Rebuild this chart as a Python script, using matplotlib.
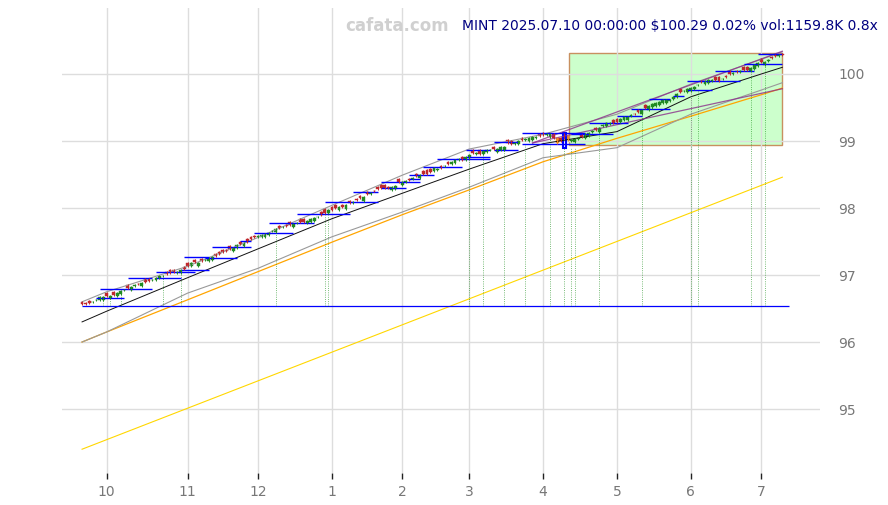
import numpy as np
import matplotlib
matplotlib.use('Agg')
import matplotlib.pyplot as plt
from matplotlib.patches import Rectangle

# trading days per month, Sep 20 2024 .. Jul 10 2025
month_days = [7, 23, 20, 21, 20, 19, 21, 21, 21, 20, 7]
month_labels = ["10", "11", "12", "1", "2", "3", "4", "5", "6", "7"]

# daily closes
closes = [96.57, 96.57, 96.58, 96.60, 96.63, 96.67, 96.67, 96.69, 96.69, 96.70,
          96.73, 96.76, 96.78, 96.81, 96.82, 96.85, 96.86, 96.88, 96.90, 96.91,
          96.93, 96.96, 96.99, 96.99, 97.01, 97.03, 97.04, 97.04, 97.07, 97.09,
          97.13, 97.18, 97.19, 97.18, 97.21, 97.23, 97.25, 97.27, 97.28, 97.31,
          97.34, 97.36, 97.39, 97.40, 97.45, 97.46, 97.48, 97.49, 97.54, 97.57,
          97.58, 97.60, 97.61, 97.63, 97.66, 97.69, 97.70, 97.72, 97.73, 97.75,
          97.76, 97.78, 97.79, 97.79, 97.81, 97.84, 97.85, 97.87, 97.90, 97.93,
          97.97, 97.97, 98.00, 98.01, 98.01, 98.04, 98.07, 98.09, 98.12, 98.15,
          98.16, 98.21, 98.22, 98.25, 98.28, 98.30, 98.30, 98.30, 98.31, 98.33,
          98.39, 98.39, 98.40, 98.42, 98.45, 98.48, 98.49, 98.51, 98.51, 98.54,
          98.60, 98.58, 98.60, 98.63, 98.66, 98.69, 98.72, 98.73, 98.72, 98.76,
          98.79, 98.82, 98.82, 98.81, 98.85, 98.87, 98.87, 98.88, 98.88, 98.91,
          98.91, 98.97, 98.96, 98.97, 99.00, 99.01, 99.03, 99.04, 99.06, 99.06,
          99.07, 99.09, 99.10, 99.10, 99.04, 98.97, 99.00, 99.04, 99.01, 99.01,
          99.03, 99.04, 99.06, 99.10, 99.12, 99.15, 99.16, 99.19, 99.24, 99.27,
          99.27, 99.27, 99.28, 99.33, 99.36, 99.36, 99.39, 99.40, 99.43, 99.46,
          99.49, 99.52, 99.55, 99.57, 99.58, 99.61, 99.61, 99.61, 99.66, 99.70,
          99.73, 99.75, 99.78, 99.79, 99.81, 99.84, 99.88, 99.90, 99.91, 99.91,
          99.91, 99.90, 99.93, 99.96, 100.00, 100.01, 100.03, 100.04, 100.06, 100.06,
          100.09, 100.13, 100.16, 100.18, 100.18, 100.21, 100.24, 100.27, 100.28, 100.29]

# candle body (close - open) in cents
bodies = [-3, -1, -3, 1, 1, 4, 5, -4, 4, -4, 4, 5, 1, -4, 4, 1, -1, 4, -4, -3,
          1, 4, 4, 1, -3, -4, -3, 1, 4, -3, -5, 5, -3, 4, -3, 1, 4, 4, -3, -4,
          -4, -1, -4, 4, 5, -4, 4, -4, -3, -1, 1, 3, 4, 4, 1, 5, -3, 1, -1, -4,
          4, 1, -4, -5, 4, 5, 4, 1, -4, -5, 5, -5, -4, 4, -4, 5, -4, 1, -1, -3,
          5, -3, 1, -1, -3, -4, -4, -1, 4, 5, -4, 4, 1, -1, 1, -3, 4, -4, -5, -4,
          5, 1, -3, 1, -3, 4, 5, 1, -4, 5, 5, -4, 1, -5, 4, 4, 1, -3, 4, 5,
          4, -5, -4, 1, 4, -4, 1, 4, 5, 1, -3, -3, 1, 4, -6, -8, -5, -6, -7, 1,
          5, 1, -3, 5, 5, 1, -4, 5, 1, 5, 1, -4, -5, 5, 5, 4, 1, -1, -4, 5,
          -5, 5, 5, 5, 5, 4, 5, 1, 4, 5, -5, 1, 5, 5, 4, 1, -1, 5, 4, 1,
          -5, -5, 1, -1, -5, 1, -1, 1, -4, -4, 5, 5, 4, -4, 5, 1, -1, -2, 1, -1]
orange_days = [135, 138]
blue_box_day = 137
blue_box_lo, blue_box_hi = 98.90, 99.12

# indicator lines, read at month starts
anchor_idx = [0, 7, 30, 50, 71, 91, 110, 131, 152, 173, 193, 199]
mid_line = [96.30, 96.46, 96.96, 97.39, 97.84, 98.22, 98.58, 98.96, 99.14, 99.66, 100.00, 100.10]
upper_gray = [96.60, 96.75, 97.13, 97.56, 98.04, 98.49, 98.88, 99.10, 99.40, 99.85, 100.22, 100.33]
lower_gray = [96.00, 96.15, 96.73, 97.10, 97.57, 97.94, 98.31, 98.75, 98.90, 99.40, 99.76, 99.87]
orange_line = [96.00, 96.15, 96.63, 97.05, 97.49, 97.90, 98.27, 98.69, 99.04, 99.37, 99.69, 99.79]
yellow_idx = [0, 199]
yellow_line = [94.40, 98.46]
purple_idx = [128, 199]
purple_up = [98.97, 100.34]
purple_dn = [98.97, 99.78]

base_level = 96.53
box_i0, box_i1 = 139, 199
box_lo, box_hi = 98.94, 100.31

# green dotted markers: day index, top value
dot_days = [6, 8, 11, 23, 28, 55, 69, 70, 110, 114, 120, 126, 133, 137, 139, 140, 147, 159, 173, 175, 190, 194]
dot_tops = [96.66, 96.66, 96.73, 96.96, 97.03, 97.70, 97.90, 97.90, 98.76, 98.85, 98.90, 98.96, 99.12, 98.90,
            98.90, 98.90, 99.21, 99.49, 99.76, 99.76, 100.03, 100.15]

# blue range segments: start day, end day, level
seg_start = [4, 5, 13, 21, 21, 28, 29, 35, 37, 45, 49, 53, 61, 69, 77, 85, 85, 93, 93, 97, 101, 109, 109,
             117, 117, 125, 125, 139, 144, 152, 156, 161, 168, 172, 172, 180, 188, 192]
seg_end = [12, 20, 20, 28, 32, 36, 36, 44, 48, 48, 60, 66, 76, 84, 84, 92, 96, 96, 100, 108, 116, 116, 116,
           124, 124, 143, 143, 151, 155, 159, 167, 167, 171, 179, 187, 191, 199, 199]
seg_val = [96.66, 96.79, 96.96, 96.96, 97.04, 97.07, 97.27, 97.25, 97.42, 97.51, 97.63, 97.78, 97.91, 98.09,
           98.24, 98.30, 98.39, 98.43, 98.49, 98.61, 98.73, 98.76, 98.87, 98.87, 98.99, 98.96, 99.12, 99.10,
           99.27, 99.37, 99.48, 99.63, 99.67, 99.76, 99.90, 100.04, 100.15, 100.30]

fig = plt.figure(figsize=(8.88, 5.05), dpi=100)
ax = fig.add_axes([62 / 888, 32 / 505, 758 / 888, 465 / 505])

closes = np.array(closes)
opens = closes - np.array(bodies) / 100.0
days = np.arange(len(closes))

# lines
ax.plot(yellow_idx, yellow_line, color='#ffd700', lw=0.8)
ax.plot(anchor_idx, orange_line, color='#ffa500', lw=0.9)
ax.plot(anchor_idx, lower_gray, color='#999999', lw=0.8)
ax.plot(anchor_idx, upper_gray, color='#999999', lw=0.8)
ax.plot(anchor_idx, mid_line, color='#111111', lw=0.7)
ax.plot(purple_idx, purple_up, color='#8b2f8b', lw=0.9, alpha=0.8)
ax.plot(purple_idx, purple_dn, color='#8b2f8b', lw=0.9, alpha=0.8)
ax.hlines(base_level, 0, 201, color='blue', lw=0.9)

ax.add_patch(Rectangle((box_i0 - 0.5, box_lo), box_i1 - box_i0 + 0.5, box_hi - box_lo,
                       facecolor='#ccffcc', edgecolor='#c89060', lw=1, zorder=0.5))

ax.vlines(dot_days, base_level, dot_tops, color='green', lw=0.6, linestyles=':', alpha=0.7)
ax.hlines(seg_val, seg_start, seg_end, color='blue', lw=1)

# candles
for d, o, c in zip(days, opens, closes):
    col = '#228b22' if c >= o else '#c0282d'
    if d in orange_days:
        col = '#f08c20'
    lo, hi = min(o, c), max(o, c)
    ax.vlines(d, lo - 0.015, hi + 0.015, color=col, lw=0.7)
    ax.add_patch(Rectangle((d - 0.4, lo), 0.8, max(hi - lo, 0.008), facecolor=col, edgecolor=col, lw=0.3))
ax.add_patch(Rectangle((blue_box_day - 0.45, blue_box_lo), 0.9, blue_box_hi - blue_box_lo,
                       facecolor='none', edgecolor='blue', lw=1.5))

# axes styling
month_starts = np.cumsum(month_days)[:-1]
ax.set_xticks(month_starts)
ax.set_xticklabels(month_labels)
ax.set_yticks([95, 96, 97, 98, 99, 100])
ax.set_xlim(-5.7, 209.7)
ax.set_ylim(94.045, 100.985)
ax.yaxis.tick_right()
ax.grid(True, color='#dddddd', lw=1)
ax.set_axisbelow(True)
for s in ax.spines.values():
    s.set_visible(False)
ax.tick_params(axis='x', colors='#222222', length=4, width=1, labelsize=10, labelcolor='#777777', pad=5)
ax.tick_params(axis='y', length=0, labelsize=10, labelcolor='#777777', pad=13)

fig.text(397 / 888, 1 - 26 / 505, "cafata.com", color='#d0d0d0', fontsize=12, fontweight='bold',
         ha='center', va='center')
fig.text(878 / 888, 1 - 26 / 505, "MINT 2025.07.10 00:00:00 $100.29 0.02% vol:1159.8K 0.8x",
         color='#000080', fontsize=10, ha='right', va='center')

fig.savefig("out.png", dpi=100)
